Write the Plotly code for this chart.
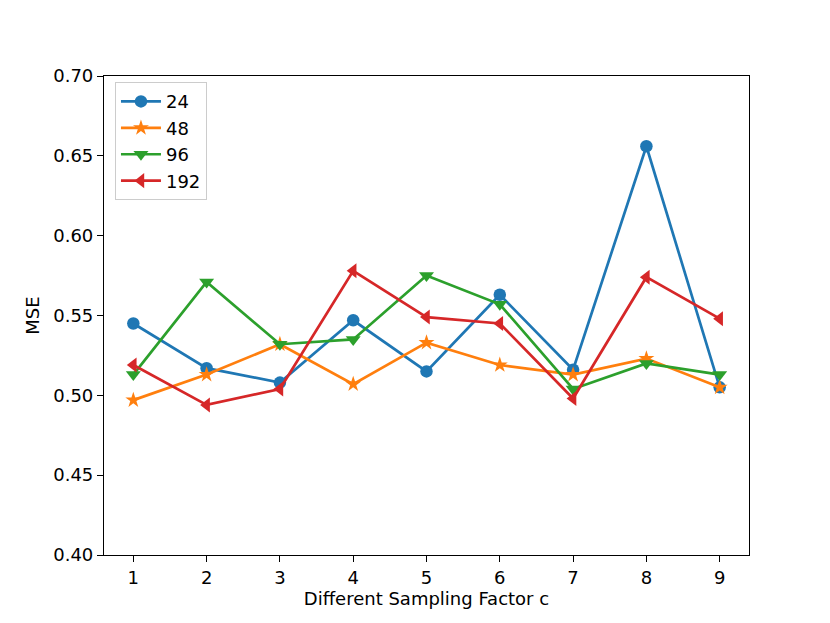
import plotly.graph_objects as go

factors = [1, 2, 3, 4, 5, 6, 7, 8, 9]
mse_24 = [0.545, 0.517, 0.508, 0.547, 0.515, 0.563, 0.516, 0.656, 0.505]
mse_48 = [0.497, 0.513, 0.532, 0.507, 0.533, 0.519, 0.513, 0.523, 0.505]
mse_96 = [0.513, 0.571, 0.532, 0.535, 0.575, 0.557, 0.504, 0.520, 0.513]
mse_192 = [0.519, 0.494, 0.504, 0.578, 0.549, 0.545, 0.498, 0.574, 0.548]
y_ticks = [0.40, 0.45, 0.50, 0.55, 0.60, 0.65, 0.70]

series = [
    ("24", mse_24, "#1f77b4", "circle", 12.5),
    ("48", mse_48, "#ff7f0e", "star", 12),
    ("96", mse_96, "#2ca02c", "triangle-down", 13),
    ("192", mse_192, "#d62728", "triangle-left", 13),
]

fig = go.Figure()
for name, vals, color, sym, size in series:
    fig.add_trace(go.Scatter(
        x=factors, y=vals, name=name, mode="lines+markers",
        line=dict(color=color, width=2.7),
        marker=dict(symbol=sym, size=size, color=color, line=dict(width=0)),
    ))

fs = 18
font = dict(family="DejaVu Sans", size=fs, color="black")
fig.update_layout(
    width=830, height=623,
    margin=dict(l=96, r=89, t=68, b=76),
    paper_bgcolor="white", plot_bgcolor="white",
    font=font,
    showlegend=True,
    legend=dict(
        x=0.017, y=0.987, xanchor="left", yanchor="top",
        bgcolor="rgba(255,255,255,0.8)", bordercolor="#cccccc", borderwidth=1,
        font=dict(family="DejaVu Sans", size=fs, color="black"),
        tracegroupgap=0, itemwidth=40,
    ),
)
axis_common = dict(
    showline=True, linecolor="black", linewidth=1.2, mirror=True,
    ticks="outside", ticklen=6, tickwidth=1.2, tickcolor="black",
    showgrid=False, zeroline=False,
    tickfont=dict(family="DejaVu Sans", size=fs, color="black"),
)
fig.update_xaxes(
    range=[0.6, 9.4], tickmode="array", tickvals=factors,
    ticktext=[str(f) for f in factors],
    title=dict(text="Different Sampling Factor c", standoff=4,
               font=dict(family="DejaVu Sans", size=fs, color="black")),
    **axis_common,
)
fig.update_yaxes(
    range=[0.40, 0.70], tickmode="array", tickvals=y_ticks,
    ticktext=[f"{t:.2f}" for t in y_ticks],
    title=dict(text="MSE", standoff=8,
               font=dict(family="DejaVu Sans", size=fs, color="black")),
    **axis_common,
)
fig.write_html("out.html")
